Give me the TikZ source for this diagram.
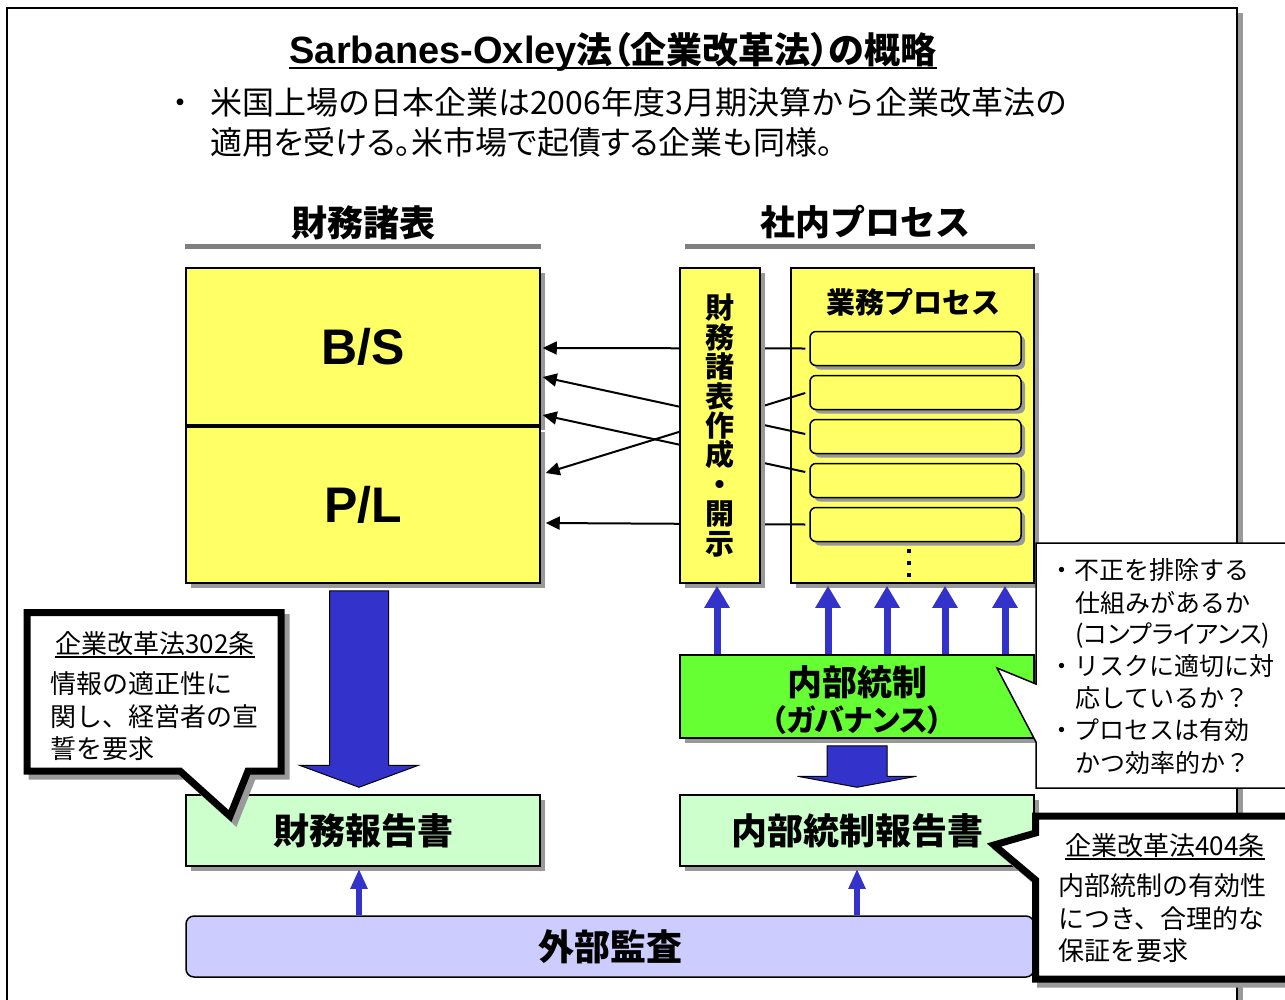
\documentclass[tikz,border=0pt]{standalone}
\usepackage{fontspec}
\setmainfont{Noto Sans CJK JP}
\newfontfamily\lat{Liberation Sans}
\usetikzlibrary{calc,arrows.meta,shadows}
\definecolor{ylw}{HTML}{FFFF66}
\definecolor{grn}{HTML}{66FF33}
\definecolor{lgrn}{HTML}{CCFFCC}
\definecolor{lav}{HTML}{CCCCFF}
\definecolor{blu}{HTML}{3333CC}
\definecolor{shd}{HTML}{999999}
\definecolor{barg}{HTML}{808080}
\newcommand{\fsz}[1]{\fontsize{#1}{#1}\selectfont}
\newcommand{\pr}{\addfontfeature{RawFeature=+palt}}
\tikzset{
  box/.style={draw=black,line width=1.5pt,inner sep=0pt,anchor=center},
  shad/.style={drop shadow={shadow xshift=5pt,shadow yshift=-5pt,fill=shd,opacity=1}},
  shadsm/.style={drop shadow={shadow xshift=4pt,shadow yshift=-4pt,fill=shd,opacity=1}},
  txt/.style={inner sep=0pt,anchor=base west},
  ctxt/.style={inner sep=0pt,anchor=base},
  dot/.style={fill=black,inner sep=0pt,minimum size=4.5pt,anchor=center},
  conn/.style={draw=black,line width=2pt,-{Triangle[length=14pt,width=13pt]}},
  uparr/.style={draw=blu,line width=7pt,-{Triangle[length=22pt,width=24pt]}},
  smarr/.style={draw=blu,line width=6pt,-{Triangle[length=20pt,width=16pt]}},
  fatarr/.style={fill=blu,draw=black,line width=1pt},
  barline/.style={draw=barg,line width=5pt},
  callthin/.style={fill=white,draw=black,line width=1.5pt},
  callthick/.style={fill=white,draw=black,line width=7pt},
  callshd/.style={fill=shd,draw=shd,line width=7pt,xshift=5pt,yshift=-5pt},
}
\begin{document}
\begin{tikzpicture}[x=1pt,y=-1pt]
\useasboundingbox (0,0) rectangle (1285,999);
\clip (0,0) rectangle (1285,999);
% outer frame
\fill[shd] (12,13) rectangle (1243,1020);
\draw[line width=2pt,fill=white] (7,8) rectangle (1237,1020);

% title
\node[ctxt] (title) at (613,63) {\bfseries{\lat\fsz{38}Sarbanes-Oxley}\fsz{36}\pr 法（企業改革法）の概略};
\draw[line width=2pt] ($(title.base west)+(0,5)$) -- ($(title.base east)+(0,5)$);

\node[txt,font=\fsz{32}] (bul) at (164,114) {・};
\node[txt,font=\fsz{32}] (l1) at (210,114) {米国上場の日本企業は2006年度3月期決算から企業改革法の};
\node[txt,font=\fsz{32}\pr] (l2) at (210,154) {適用を受ける。米市場で起債する企業も同様。};

% headings
\node[ctxt,font=\bfseries\fsz{36}] (h1) at (363,236) {財務諸表};
\node[ctxt,font=\bfseries\fsz{35}] (h2) at (865,235) {社内プロセス};

% financial statements
\node[box,shad,fill=ylw,minimum width=354pt,minimum height=157pt,font=\lat\bfseries\fsz{50}] (bs) at (363,346.5) {B/S};
\node[box,shad,fill=ylw,minimum width=354pt,minimum height=156pt,font=\lat\bfseries\fsz{50}] (pl) at (363,505) {P/L};
\draw[barline] ($(bs.north west)+(0,-21)$) -- ($(bs.north east)+(0,-21)$);

% business process
\node[box,shad,fill=ylw,minimum width=243pt,minimum height=315pt] (gy) at (912.5,425.5) {};
\node[ctxt,font=\bfseries\fsz{29}] (gyt) at (913,313) {業務プロセス};
\foreach \i/\y in {1/348.5,2/392.5,3/436.5,4/480.5,5/524.5}
  \node[box,shadsm,fill=ylw,rounded corners=6pt,minimum width=211pt,minimum height=34pt] (r\i) at (915.5,\y) {};
\node[dot] (d1) at (909,551) {};
\node[dot] (d2) at (909,563) {};
\node[dot] (d3) at (909,575) {};

% connectors
\draw[conn] ($(r1.west)+(-4,0)$) -- ($(bs.east)+(2,1.5)$);
\draw[conn] ($(r3.west)+(-4,-2.5)$) -- ($(bs.east)+(2,30.5)$);
\draw[conn] ($(r4.west)+(-4,-8.5)$) -- ($(bs.east)+(2,68.5)$);
\draw[conn] ($(r2.west)+(-4,0.5)$) -- ($(pl.east)+(5,-32)$);
\draw[conn] ($(r5.west)+(-4,0)$) -- ($(pl.east)+(5,18)$);

% vertical box
\node[box,shad,fill=ylw,minimum width=80pt,minimum height=315pt,align=center,font=\bfseries\fontsize{29}{29.4}\selectfont] (vb) at (720,425.5) {財\\務\\諸\\表\\作\\成\\・\\開\\示};
\draw[barline] ($(vb.north west)+(6,-21)$) -- ($(gy.north east)+(0,-21)$);

% internal control
\node[box,shad,fill=grn,minimum width=354pt,minimum height=83pt] (nb) at (857,696.5) {};
\node[ctxt,font=\bfseries\fsz{35}] (nbt1) at (857,695) {内部統制};
\node[ctxt,font=\bfseries\fsz{30}\pr] (nbt2) at (857,731) {（ガバナンス）};

\draw[uparr] ($(vb.south |- nb.north)+(-3,0)$) -- ($(vb.south)+(-3,2)$);
\foreach \dx in {-84.5,-25.5,32.5,92.5}
  \draw[uparr] ($(gy.south |- nb.north)+(\dx,0)$) -- ($(gy.south)+(\dx,2)$);

% governance callout
\draw[callthin] (1036,543) -- (1300,543) -- (1300,788) -- (1036,788) -- (1036,742) -- (997,668) -- (1036,684) -- cycle;
\node[txt,font=\fsz{25}] (g1) at (1049,579.5) {・不正を排除する};
\node[txt,font=\fsz{25}] (g2) at (1075,612.5) {仕組みがあるか};
\node[txt,font=\fsz{25}\pr] (g3) at (1075,643.5) {(コンプライアンス)};
\node[txt,font=\fsz{25}] (g4) at (1049,675.5) {・リスクに適切に対};
\node[txt,font=\fsz{25}] (g5) at (1075,707.5) {応しているか？};
\node[txt,font=\fsz{25}] (g6) at (1049,739.5) {・プロセスは有効};
\node[txt,font=\fsz{25}] (g7) at (1075,772.5) {かつ効率的か？};

% reports
\node[box,shad,fill=lgrn,minimum width=354pt,minimum height=71pt,font=\bfseries\fsz{36}] (zr) at (363,830.5) {財務報告書};
\node[box,shad,fill=lgrn,minimum width=354pt,minimum height=71pt,font=\bfseries\fsz{36}] (nr) at (857,830.5) {内部統制報告書};
\node[box,fill=lav,rounded corners=8pt,minimum width=848pt,minimum height=61pt,font=\bfseries\fsz{36}] (ga) at (610,946.5) {外部監査};

% fat arrows
\coordinate (a1s) at ($(pl.south)+(-4,7)$);
\coordinate (a1e) at ($(zr.north)+(-4,-7)$);
\filldraw[fatarr] ($(a1s)+(-29.5,0)$) -- ($(a1s)+(29.5,0)$) -- ($(a1e)+(29.5,-22)$) -- ($(a1e)+(59.5,-22)$) -- (a1e) -- ($(a1e)+(-59.5,-22)$) -- ($(a1e)+(-29.5,-22)$) -- cycle;
\coordinate (a2s) at ($(nb.south)+(0,7)$);
\coordinate (a2e) at ($(nr.north)+(0,-7)$);
\filldraw[fatarr] ($(a2s)+(-30,0)$) -- ($(a2s)+(30,0)$) -- ($(a2e)+(30,-11)$) -- ($(a2e)+(59.5,-11)$) -- (a2e) -- ($(a2e)+(-59.5,-11)$) -- ($(a2e)+(-30,-11)$) -- cycle;

\draw[smarr] ($(ga.north -| zr.south)+(-4,0)$) -- ($(zr.south)+(-4,2)$);
\draw[smarr] (ga.north -| nr.south) -- ($(nr.south)+(0,2)$);

% callout 302
\filldraw[callshd] (27,612.5) -- (281,612.5) -- (281,771) -- (248,771) -- (230,816) -- (180,771) -- (27,771) -- cycle;
\filldraw[callthick] (27,612.5) -- (281,612.5) -- (281,771) -- (248,771) -- (230,816) -- (180,771) -- (27,771) -- cycle;
\node[ctxt,font=\fsz{26}] (c1t) at (155,653) {企業改革法302条};
\draw[line width=1.2pt] ($(c1t.base west)+(0,4)$) -- ($(c1t.base east)+(0,4)$);
\node[txt,font=\fsz{26}] (c1a) at (50,693) {情報の適正性に};
\node[txt,font=\fsz{26}] (c1b) at (50,726) {関し、経営者の宣};
\node[txt,font=\fsz{26}] (c1c) at (50,758) {誓を要求};

% callout 404
\filldraw[callshd] (1035.5,816) -- (1300,816) -- (1300,979) -- (1035.5,979) -- (1035.5,880) -- (994,845) -- (1035.5,833) -- cycle;
\filldraw[callthick] (1035.5,816) -- (1300,816) -- (1300,979) -- (1035.5,979) -- (1035.5,880) -- (994,845) -- (1035.5,833) -- cycle;
\node[ctxt,font=\fsz{26}] (c2t) at (1165,855) {企業改革法404条};
\draw[line width=1.2pt] ($(c2t.base west)+(0,4)$) -- ($(c2t.base east)+(0,4)$);
\node[txt,font=\fsz{26}] (c2a) at (1058,895) {内部統制の有効性};
\node[txt,font=\fsz{26}] (c2b) at (1058,928) {につき、合理的な};
\node[txt,font=\fsz{26}] (c2c) at (1058,960) {保証を要求};
\end{tikzpicture}
\end{document}
